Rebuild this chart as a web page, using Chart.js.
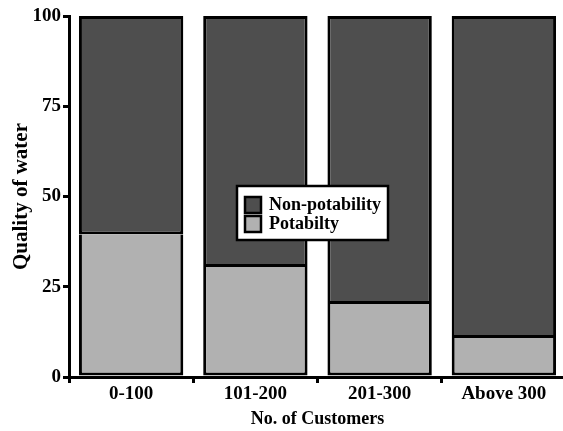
<!DOCTYPE html>
<html>
<head>
<meta charset="utf-8">
<script src="https://cdn.jsdelivr.net/npm/chart.js@4"></script>
<style>
  html, body { margin: 0; padding: 0; background: #fff; overflow: hidden; }
  #wrap { width: 563px; height: 431px; overflow: hidden; }
</style>
</head>
<body>
<div id="wrap"><canvas id="chart" width="566" height="431"></canvas></div>
<script>
const categories = ["0-100", "101-200", "201-300", "Above 300"];
const potability = [39.5, 30.5, 20.2, 10.8];
const nonPotability = [60.5, 69.5, 79.8, 89.2];
const yTicks = [0, 25, 50, 75, 100];

const serif = "'Liberation Serif', 'Times New Roman', serif";

// legend drawn by hand: white box with a black frame, inside the plot
const boxLegend = {
    id: "boxLegend",
    afterDraw(chart) {
        const ctx = chart.ctx;
        const items = [chart.data.datasets[1], chart.data.datasets[0]];
        ctx.save();
        ctx.fillStyle = "#fff";
        ctx.fillRect(237, 186, 151, 54);
        ctx.lineWidth = 2.5;
        ctx.strokeStyle = "#000";
        ctx.strokeRect(237, 186, 151, 54);
        ctx.font = "bold 18px " + serif;
        ctx.textBaseline = "middle";
        items.forEach((ds, i) => {
            const y = 197 + i * 19;
            ctx.fillStyle = ds.backgroundColor;
            ctx.fillRect(245, y, 16, 16);
            ctx.lineWidth = 2.5;
            ctx.strokeRect(245, y, 16, 16);
            ctx.fillStyle = "#000";
            ctx.fillText(ds.label, 269, y + 8);
        });
        ctx.restore();
    }
};

new Chart(document.getElementById("chart").getContext("2d"), {
    type: "bar",
    data: {
        labels: categories,
        datasets: [
            { label: "Potabilty", data: potability, backgroundColor: "#b1b1b1", borderColor: "#000", borderWidth: 3, borderSkipped: "top" },
            { label: "Non-potability", data: nonPotability, backgroundColor: "#4e4e4e", borderColor: "#000", borderWidth: 3, borderSkipped: false }
        ]
    },
    options: {
        responsive: false,
        animation: false,
        categoryPercentage: 1,
        barPercentage: 0.84,
        layout: { padding: { top: 16, right: 0, left: 0, bottom: 0 } },
        plugins: { legend: { display: false }, tooltip: { enabled: false } },
        scales: {
            x: {
                stacked: true,
                offset: true,
                grid: { display: true, offset: true, drawOnChartArea: false, drawTicks: true, tickLength: 6, color: "#000", lineWidth: 3 },
                border: { display: true, color: "#000", width: 3 },
                ticks: { color: "#000", font: { family: serif, size: 19, weight: "bold" }, padding: 0, maxRotation: 0 },
                title: { display: true, text: "No. of Customers", color: "#000", font: { family: serif, size: 18, weight: "bold" }, padding: { top: 0, bottom: 1 } },
                afterFit(scale) { scale.height = 54; }
            },
            y: {
                stacked: true,
                min: 0,
                max: 100,
                afterBuildTicks(scale) { scale.ticks = yTicks.map(v => ({ value: v })); },
                grid: { display: true, drawOnChartArea: false, drawTicks: true, tickLength: 6, color: "#000", lineWidth: 3 },
                border: { display: true, color: "#000", width: 3 },
                ticks: { color: "#000", font: { family: serif, size: 19, weight: "bold" }, padding: 2 },
                title: { display: true, text: "Quality of water", color: "#000", font: { family: serif, size: 21, weight: "bold" }, padding: { top: 9, bottom: 0 } },
                afterFit(scale) { scale.width = 69; }
            }
        }
    },
    plugins: [boxLegend]
});
</script>
</body>
</html>
